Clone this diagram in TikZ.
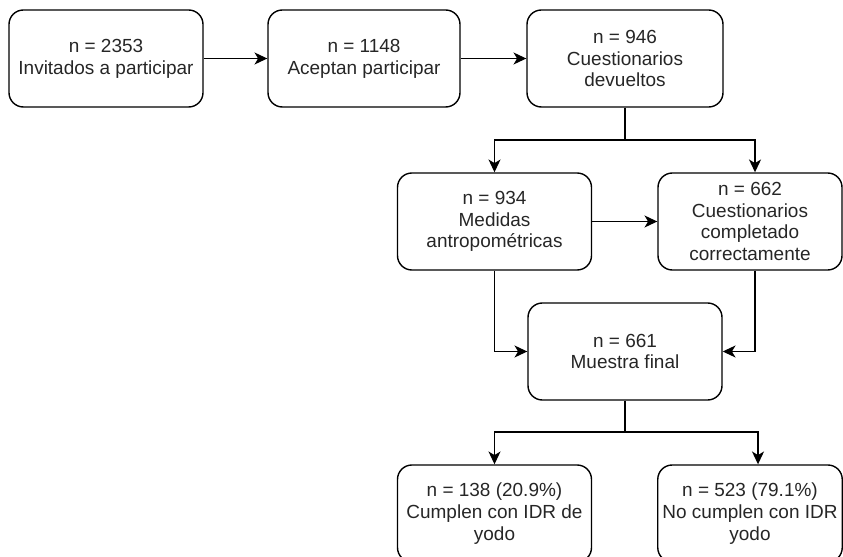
\documentclass[tikz,border=0pt]{standalone}
\usepackage{fontspec}
\setmainfont{Liberation Sans}
\usetikzlibrary{arrows.meta}
\begin{document}
\begin{tikzpicture}[
            box/.style={rectangle, draw=black, line width=1pt, rounded corners=3.6mm, minimum width=4.85cm, minimum height=2.425cm, align=center, text=black!85, font=\fontsize{13.5}{15.5}\selectfont},
            narrow/.style={minimum width=4.6cm},
            arrow/.style={draw=black, line width=1pt, -{Stealth[length=3.2mm, width=3mm, inset=0.9mm]}},
            line/.style={draw=black, line width=1pt}
        ]
        \clip (0,0) rectangle (21.075,-13.925);
        \node[box] (invitados) at (2.65,-1.4625) {n = 2353\\Invitados a participar};
        \node[box, minimum width=4.8cm] (aceptan) at (9.1,-1.4625) {n = 1148\\Aceptan participar};
        \node[box, minimum width=4.9cm] (devueltos) at (15.625,-1.4625) {n = 946\\Cuestionarios\\devueltos};
        \node[box] (medidas) at (12.3625,-5.5375) {n = 934\\Medidas\\antropométricas};
        \node[box, narrow] (completos) at (18.75,-5.5375) {n = 662\\Cuestionarios\\completado\\correctamente};
        \node[box] (final) at (15.625,-8.7875) {n = 661\\Muestra final};
        \node[box] (cumplen) at (12.3625,-12.8375) {n = 138 (20.9\%)\\Cumplen con IDR de\\yodo};
        \node[box, narrow] (nocumplen) at (18.75,-12.8375) {n = 523 (79.1\%)\\No cumplen con IDR\\yodo};

        \coordinate (split1) at (15.625,-3.5);
        \coordinate (split2) at (15.625,-10.8);

        \draw[arrow] (invitados) -- (aceptan);
        \draw[arrow] (aceptan) -- (devueltos);
        \draw[line] (devueltos.south) -- (split1);
        \draw[arrow] (split1) -| (medidas.north);
        \draw[arrow] (split1) -| ([xshift=1.25mm]completos.north);
        \draw[arrow] (medidas) -- (completos);
        \draw[arrow] (medidas.south) |- (final.west);
        \draw[arrow] ([xshift=1.25mm]completos.south) |- (final.east);
        \draw[line] (final.south) -- (split2);
        \draw[arrow] (split2) -| (cumplen.north);
        \draw[arrow] (split2) -| ([xshift=2mm]nocumplen.north);
    \end{tikzpicture}
\end{document}
